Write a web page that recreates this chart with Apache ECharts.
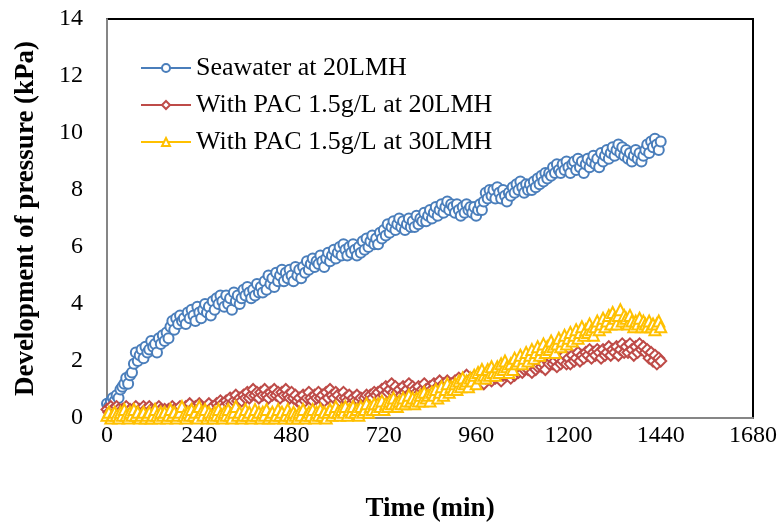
<!DOCTYPE html>
<html>
<head>
<meta charset="utf-8">
<script src="https://cdn.jsdelivr.net/npm/echarts@6/dist/echarts.min.js"></script>
<style>
  html, body { margin: 0; padding: 0; background: #fff; }
  #chart { width: 781px; height: 523px; }
</style>
</head>
<body>
<div id="chart"></div>
<script>
// time in minutes, one reading every 5 min (0 .. 1440)
var times = [];
for (var t = 0; t <= 1440; t += 5) times.push(t);

var xTicks = [0, 240, 480, 720, 960, 1200, 1440, 1680];
var yTicks = [0, 2, 4, 6, 8, 10, 12, 14];

var seriesNames = ['Seawater at 20LMH', 'With PAC 1.5g/L at 20LMH', 'With PAC 1.5g/L at 30LMH'];

// one row = 50 min
var seawater20 = [
  0.5, 0.4, 0.6, 0.7, 0.6, 0.8, 0.7, 1.0, 1.1, 1.2,
  1.4, 1.2, 1.5, 1.6, 1.9, 2.3, 2.0, 2.2, 2.4, 2.1,
  2.5, 2.3, 2.4, 2.7, 2.5, 2.6, 2.3, 2.8, 2.6, 2.9,
  2.7, 3.0, 2.8, 3.2, 3.4, 3.1, 3.5, 3.3, 3.6, 3.4,
  3.5, 3.3, 3.7, 3.5, 3.8, 3.6, 3.4, 3.9, 3.7, 3.5,
  3.8, 4.0, 3.7, 3.9, 3.6, 4.1, 3.8, 4.2, 4.0, 4.3,
  4.1, 3.9, 4.3, 4.0, 4.2, 3.8, 4.4, 4.1, 4.3, 4.0,
  4.2, 4.5, 4.3, 4.6, 4.4, 4.2, 4.5, 4.3, 4.7, 4.4,
  4.6, 4.4, 4.8, 4.5, 5.0, 4.7, 4.9, 4.6, 5.1, 4.8,
  5.0, 5.2, 4.8, 5.1, 4.9, 5.2, 5.0, 4.8, 5.3, 5.0,
  5.2, 4.9, 5.3, 5.1, 5.5, 5.2, 5.4, 5.6, 5.3, 5.5,
  5.4, 5.7, 5.5, 5.3, 5.6, 5.8, 5.5, 5.7, 5.9, 5.6,
  5.8, 6.0, 5.7, 6.1, 5.9, 5.7, 6.0, 5.8, 6.1, 5.9,
  5.7, 6.0, 5.8, 6.2, 5.9, 6.3, 6.0, 6.2, 6.4, 6.1,
  6.3, 6.1, 6.5, 6.3, 6.6, 6.4, 6.8, 6.5, 6.7, 6.9,
  6.6, 6.8, 7.0, 6.7, 6.9, 6.6, 6.8, 7.0, 6.7, 6.9,
  6.7, 7.1, 6.8, 7.0, 6.9, 7.2, 6.9, 7.1, 7.3, 7.0,
  7.2, 7.4, 7.1, 7.3, 7.5, 7.2, 7.4, 7.6, 7.3, 7.5,
  7.4, 7.2, 7.5, 7.3, 7.1, 7.4, 7.2, 7.5, 7.3, 7.4,
  7.2, 7.4, 7.1, 7.3, 7.5, 7.3, 7.6, 7.9, 7.7, 8.0,
  7.8, 8.0, 7.7, 8.1, 7.9, 7.7, 8.0, 7.8, 7.6, 7.9,
  7.8, 8.1, 7.9, 8.2, 8.0, 8.3, 8.1, 7.9, 8.2, 8.0,
  8.2, 8.0, 8.3, 8.1, 8.4, 8.2, 8.5, 8.3, 8.6, 8.4,
  8.6, 8.5, 8.8, 8.6, 8.9, 8.7, 8.6, 8.9, 8.7, 9.0,
  8.8, 8.6, 8.9, 9.0, 8.7, 9.1, 8.8, 9.0, 8.6, 8.9,
  9.1, 8.8, 9.0, 9.2, 8.9, 9.1, 8.8, 9.3, 9.0, 9.2,
  9.4, 9.1, 9.3, 9.5, 9.2, 9.4, 9.6, 9.3, 9.5, 9.2,
  9.4, 9.1, 9.3, 9.0, 9.2, 9.4, 9.1, 9.3, 9.0, 9.2,
  9.4, 9.6, 9.3, 9.7, 9.5, 9.8, 9.6, 9.4, 9.7
];

var pac20 = [
  0.3, 0.2, 0.4, 0.3, 0.2, 0.4, 0.3, 0.1, 0.3, 0.2,
  0.4, 0.2, 0.3, 0.1, 0.3, 0.4, 0.2, 0.3, 0.2, 0.4,
  0.3, 0.2, 0.4, 0.3, 0.1, 0.3, 0.2, 0.4, 0.3, 0.2,
  0.3, 0.1, 0.3, 0.2, 0.4, 0.3, 0.2, 0.3, 0.4, 0.2,
  0.3, 0.4, 0.2, 0.5, 0.3, 0.2, 0.4, 0.3, 0.5, 0.4,
  0.3, 0.2, 0.4, 0.5, 0.3, 0.4, 0.2, 0.5, 0.4, 0.6,
  0.5, 0.4, 0.6, 0.5, 0.7, 0.5, 0.6, 0.8, 0.6, 0.7,
  0.6, 0.8, 0.7, 0.9, 0.7, 0.8, 1.0, 0.8, 0.9, 0.7,
  0.9, 0.8, 1.0, 0.8, 0.7, 0.9, 0.8, 1.0, 0.8, 0.9,
  0.7, 0.9, 0.8, 1.0, 0.8, 0.7, 0.9, 0.7, 0.8, 0.6,
  0.7, 0.5, 0.8, 0.6, 0.7, 0.9, 0.7, 0.6, 0.8, 0.7,
  0.9, 0.7, 0.8, 0.6, 0.9, 0.7, 1.0, 0.8, 0.7, 0.9,
  0.8, 0.6, 0.7, 0.9, 0.7, 0.6, 0.8, 0.5, 0.7, 0.6,
  0.8, 0.6, 0.7, 0.5, 0.7, 0.8, 0.6, 0.8, 0.7, 0.9,
  0.8, 0.9, 0.7, 1.0, 0.8, 1.1, 0.9, 1.0, 1.2, 0.9,
  1.1, 0.9, 1.0, 0.8, 1.1, 0.9, 1.0, 1.2, 0.9, 1.1,
  1.0, 0.9, 1.1, 0.9, 1.0, 1.2, 1.0, 0.9, 1.1, 1.0,
  1.2, 1.0, 1.1, 1.3, 1.0, 1.2, 1.1, 1.3, 1.1, 1.2,
  1.1, 1.3, 1.2, 1.4, 1.2, 1.1, 1.3, 1.5, 1.3, 1.2,
  1.4, 1.2, 1.3, 1.5, 1.3, 1.4, 1.2, 1.4, 1.6, 1.4,
  1.3, 1.5, 1.4, 1.6, 1.4, 1.3, 1.5, 1.7, 1.5, 1.6,
  1.4, 1.6, 1.5, 1.7, 1.6, 1.8, 1.6, 1.7, 1.9, 1.7,
  1.8, 1.6, 1.9, 1.7, 1.8, 2.0, 1.8, 1.9, 1.7, 2.0,
  1.9, 2.1, 1.9, 2.0, 1.8, 2.1, 1.9, 2.0, 2.2, 1.9,
  2.1, 1.9, 2.2, 2.0, 2.1, 2.3, 2.0, 2.2, 2.1, 2.3,
  2.2, 2.4, 2.1, 2.3, 2.2, 2.4, 2.3, 2.1, 2.4, 2.2,
  2.3, 2.5, 2.2, 2.4, 2.3, 2.5, 2.2, 2.4, 2.6, 2.3,
  2.5, 2.3, 2.6, 2.4, 2.2, 2.5, 2.3, 2.6, 2.4, 2.5,
  2.3, 2.4, 2.1, 2.3, 2.0, 2.2, 1.9, 2.1, 2.0
];

var pac30 = [
  0.1, 0.2, 0.0, 0.1, 0.2, 0.1, 0.0, 0.2, 0.1, 0.3,
  0.1, 0.0, 0.2, 0.1, 0.3, 0.1, 0.2, 0.0, 0.1, 0.2,
  0.0, 0.1, 0.2, 0.0, 0.1, 0.3, 0.1, 0.0, 0.2, 0.1,
  0.2, 0.0, 0.1, 0.3, 0.1, 0.2, 0.0, 0.1, 0.2, 0.4,
  0.1, 0.0, 0.2, 0.1, 0.3, 0.1, 0.2, 0.0, 0.4, 0.2,
  0.1, 0.3, 0.0, 0.2, 0.1, 0.0, 0.2, 0.1, 0.3, 0.1,
  0.0, 0.2, 0.1, 0.3, 0.1, 0.0, 0.2, 0.4, 0.1, 0.2,
  0.0, 0.1, 0.3, 0.1, 0.2, 0.0, 0.1, 0.3, 0.1, 0.2,
  0.0, 0.2, 0.1, 0.3, 0.0, 0.1, 0.2, 0.0, 0.1, 0.3,
  0.1, 0.2, 0.0, 0.1, 0.3, 0.1, 0.0, 0.2, 0.1, 0.0,
  0.2, 0.1, 0.3, 0.0, 0.1, 0.2, 0.1, 0.3, 0.0, 0.2,
  0.1, 0.3, 0.1, 0.2, 0.0, 0.2, 0.3, 0.1, 0.2, 0.4,
  0.2, 0.1, 0.3, 0.2, 0.4, 0.1, 0.3, 0.2, 0.4, 0.2,
  0.3, 0.1, 0.4, 0.2, 0.3, 0.5, 0.2, 0.4, 0.3, 0.5,
  0.3, 0.5, 0.4, 0.6, 0.3, 0.5, 0.4, 0.6, 0.5, 0.7,
  0.5, 0.4, 0.6, 0.5, 0.7, 0.5, 0.6, 0.8, 0.6, 0.7,
  0.5, 0.7, 0.6, 0.8, 0.6, 0.9, 0.7, 0.8, 0.6, 0.9,
  0.8, 1.0, 0.7, 0.9, 1.1, 0.8, 1.0, 1.2, 0.9, 1.1,
  1.0, 1.2, 1.0, 1.3, 1.1, 1.4, 1.2, 1.3, 1.1, 1.4,
  1.3, 1.5, 1.2, 1.6, 1.4, 1.7, 1.5, 1.4, 1.7, 1.5,
  1.8, 1.6, 1.5, 1.8, 1.6, 1.9, 1.7, 2.0, 1.8, 1.6,
  1.9, 1.7, 2.1, 1.9, 2.0, 2.2, 1.9, 2.1, 2.3, 2.0,
  2.2, 2.4, 2.1, 2.3, 2.5, 2.2, 2.4, 2.6, 2.3, 2.5,
  2.4, 2.7, 2.5, 2.3, 2.6, 2.8, 2.5, 2.7, 2.9, 2.6,
  2.8, 3.0, 2.7, 2.9, 3.1, 2.8, 3.0, 3.2, 2.9, 3.1,
  3.0, 3.3, 3.1, 2.9, 3.2, 3.4, 3.1, 3.3, 3.5, 3.2,
  3.4, 3.6, 3.3, 3.7, 3.5, 3.3, 3.6, 3.8, 3.4, 3.6,
  3.5, 3.3, 3.6, 3.4, 3.2, 3.4, 3.3, 3.5, 3.2, 3.4,
  3.3, 3.2, 3.4, 3.2, 3.3, 3.1, 3.3, 3.4, 3.2
];

var colors = ['#4A7EBB', '#BE4B48', '#FFC000'];
var symbols = ['emptyCircle', 'emptyDiamond', 'emptyTriangle'];
var sizes = [10, 11, 11];

function pairs(vals) {
  return times.map(function (t, i) { return [t, vals[i]]; });
}

var font = 'Liberation Serif, Times New Roman, serif';

var chart = echarts.init(document.getElementById('chart'));

var option = {
  animation: false,
  color: colors,
  grid: {
    left: 107, right: 28, top: 19, bottom: 105,
    outerBoundsMode: 'none', containLabel: false,
    show: true, borderColor: '#000', borderWidth: 2, backgroundColor: 'transparent'
  },
  legend: {
    orient: 'vertical',
    left: 135, top: 50,
    itemWidth: 50, itemHeight: 10, itemGap: 11,
    data: seriesNames,
    textStyle: { fontFamily: font, fontSize: 26, color: '#000' }
  },
  xAxis: {
    type: 'value',
    min: xTicks[0], max: xTicks[xTicks.length - 1], interval: 240,
    name: 'Time (min)', nameLocation: 'middle', nameGap: 78,
    nameTextStyle: { fontFamily: font, fontSize: 27, fontWeight: 'bold', color: '#000' },
    axisLine: { lineStyle: { color: '#868686', width: 2 } },
    axisTick: { show: false },
    splitLine: { show: false },
    axisLabel: {
      margin: 6, fontFamily: font, fontSize: 24, color: '#000',
      formatter: function (v) { return String(v); }
    }
  },
  yAxis: {
    type: 'value',
    min: yTicks[0], max: yTicks[yTicks.length - 1], interval: 2,
    name: 'Development of pressure (kPa)', nameLocation: 'middle', nameGap: 67,
    nameTextStyle: { fontFamily: font, fontSize: 27, fontWeight: 'bold', color: '#000' },
    axisLine: { show: true, lineStyle: { color: '#868686', width: 2 } },
    axisTick: { show: false },
    splitLine: { show: false },
    axisLabel: {
      margin: 24, fontFamily: font, fontSize: 24, color: '#000',
      formatter: function (v) { return String(v); }
    }
  },
  series: [seawater20, pac20, pac30].map(function (vals, i) {
    return {
      name: seriesNames[i],
      type: 'line',
      data: pairs(vals),
      symbol: symbols[i],
      symbolSize: sizes[i],
      showAllSymbol: true,
      lineStyle: { width: 1, color: colors[i] },
      itemStyle: { color: colors[i], borderWidth: 1.5 }
    };
  })
};

chart.setOption(option);
</script>
</body>
</html>
